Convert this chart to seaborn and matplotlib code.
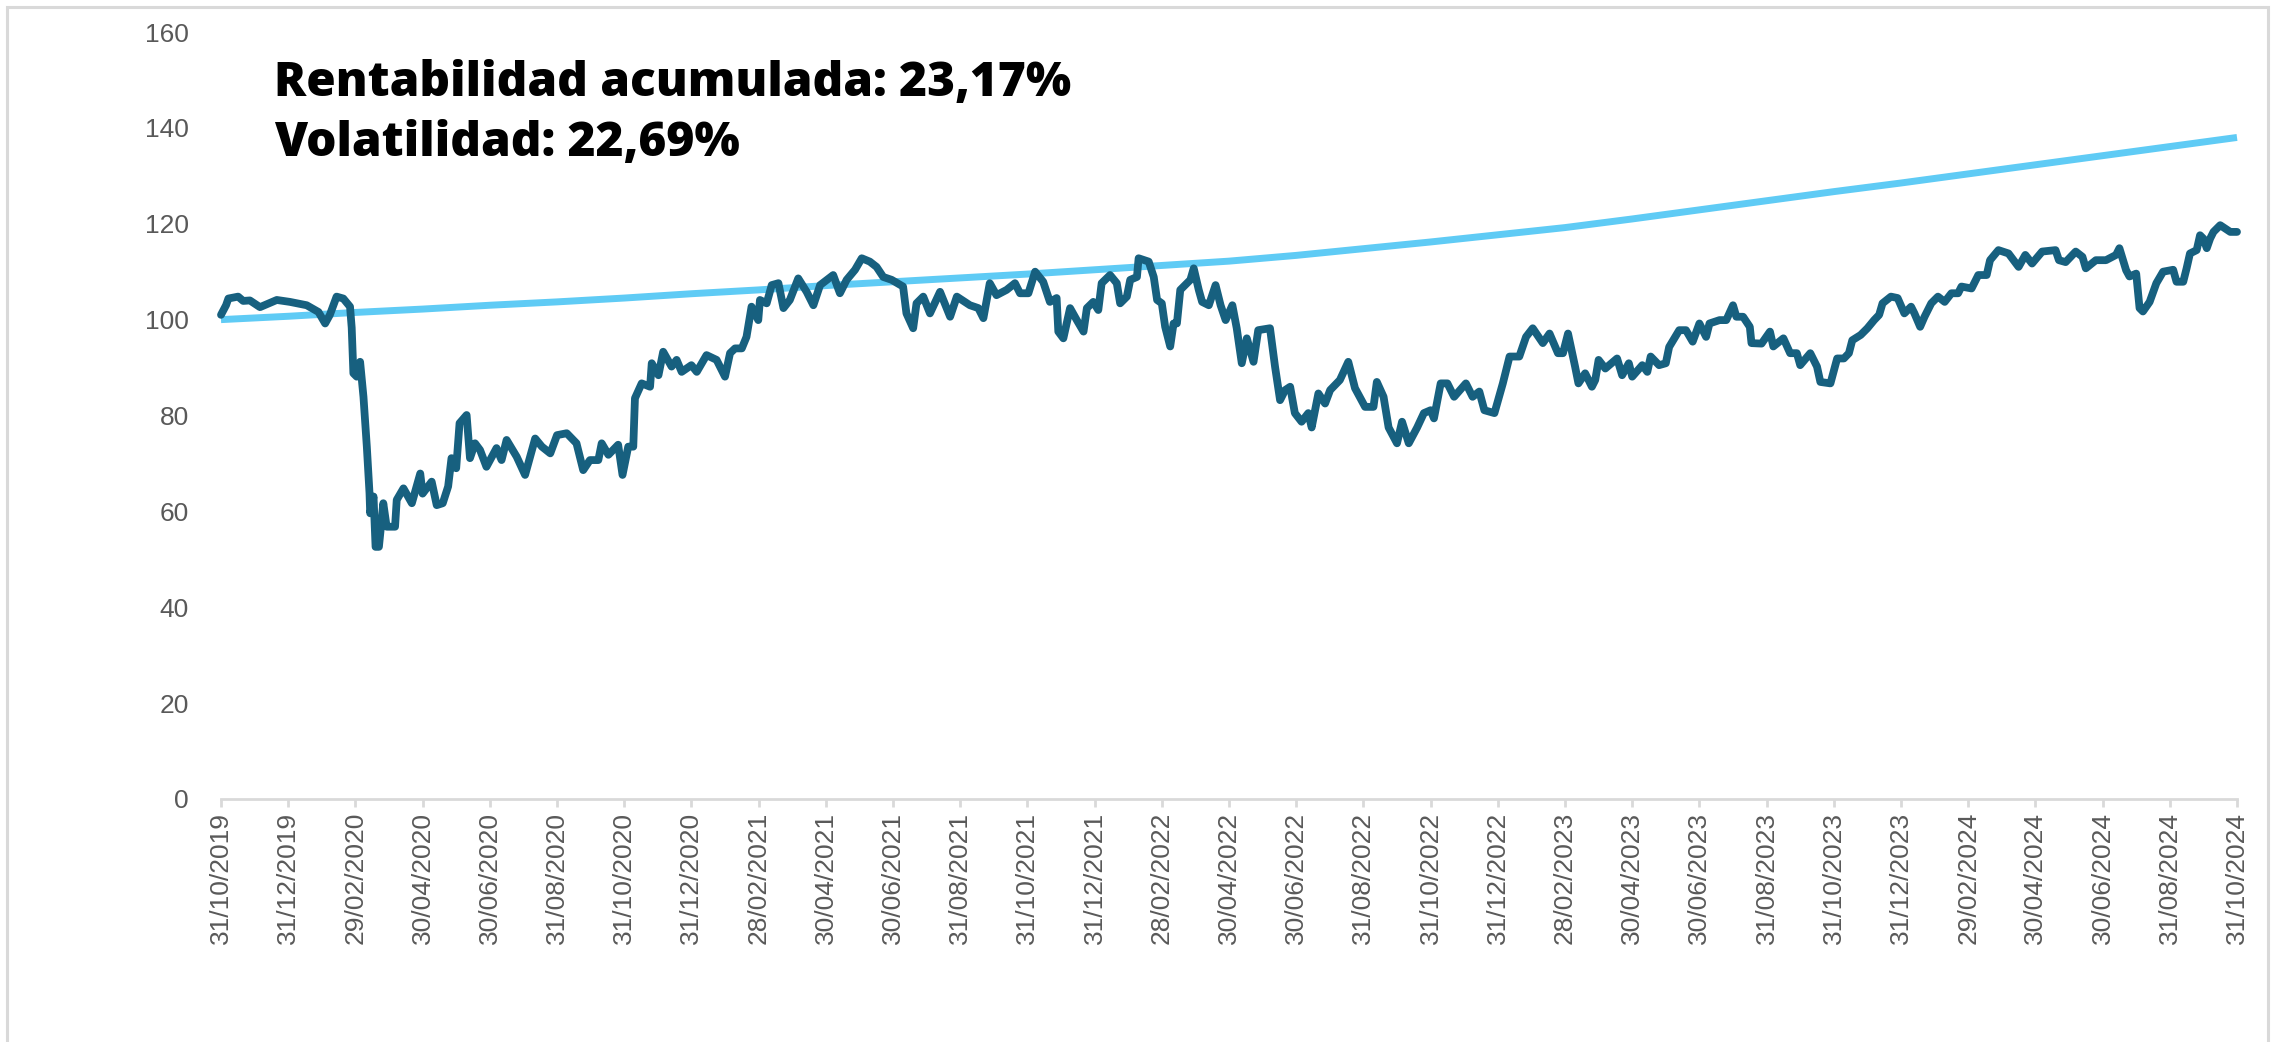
import pandas as pd
import numpy as np
import matplotlib
matplotlib.use("Agg")
import matplotlib.pyplot as plt
from matplotlib.patches import Rectangle
import seaborn as sns

# Data (x = months since 31/10/2019)
fund_months = [
    0, 0.15, 0.22, 0.51, 0.66, 0.86, 1.16, 1.66, 2.05, 2.55, 2.9, 3.1, 3.24, 3.44, 3.64, 3.84, 3.89, 3.94,
    4.04, 4.14, 4.24, 4.34, 4.42, 4.44, 4.54, 4.6, 4.7, 4.83, 4.93, 5.18, 5.23, 5.43, 5.68, 5.93, 6.0, 6.27,
    6.42, 6.6, 6.76, 6.86, 7.0, 7.1, 7.31, 7.41, 7.56, 7.71, 7.9, 8.2, 8.35, 8.5, 8.8, 9.05, 9.35, 9.55, 9.8,
    10.0, 10.29, 10.58, 10.78, 10.98, 11.23, 11.33, 11.53, 11.82, 11.95, 12.12, 12.27, 12.32, 12.52, 12.77,
    12.82, 13.02, 13.16, 13.41, 13.56, 13.71, 14.0, 14.16, 14.45, 14.75, 15.0, 15.15, 15.3, 15.5, 15.64,
    15.79, 15.89, 15.99, 16.04, 16.24, 16.39, 16.59, 16.74, 16.93, 17.18, 17.43, 17.63, 17.83, 18.22, 18.42,
    18.62, 18.87, 19.07, 19.31, 19.51, 19.71, 19.96,
    20.3, 20.4, 20.6, 20.7, 20.9, 21.1, 21.4, 21.7, 21.9, 22.29, 22.54, 22.69, 22.88, 23.08, 23.38, 23.63,
    23.78, 24.03, 24.23, 24.47, 24.67, 24.87, 24.92, 25.07, 25.27, 25.47, 25.67, 25.77, 25.96, 26.11, 26.21,
    26.46, 26.66, 26.76, 26.96, 27.06, 27.26, 27.31, 27.61, 27.76, 27.86, 28.0, 28.1, 28.25, 28.35, 28.45,
    28.55, 28.85, 28.95, 29.1, 29.2, 29.4, 29.6, 29.75, 29.9, 30.1,
    30.23, 30.38, 30.53, 30.73, 30.87, 31.22, 31.37, 31.52, 31.67, 31.82, 31.96, 32.16, 32.36, 32.46, 32.66,
    32.86, 33.01, 33.3, 33.55, 33.75, 34.05, 34.3, 34.4, 34.6, 34.75, 35.0, 35.15, 35.35, 35.6, 35.8, 36.0,
    36.1, 36.3, 36.5, 36.7, 37.05, 37.25, 37.45, 37.6, 37.9, 38.15, 38.35, 38.64, 38.84, 39.04, 39.34, 39.54,
    39.79, 39.94, 40.09,
    40.3, 40.4, 40.6, 40.8, 40.9, 41.0, 41.2, 41.55, 41.7, 41.9, 42.0, 42.3, 42.45, 42.55, 42.8, 43.0, 43.1,
    43.4, 43.6, 43.8, 44.0, 44.2, 44.3, 44.6, 44.8, 45.0, 45.1, 45.3, 45.5, 45.55, 45.85, 46.1, 46.2, 46.5,
    46.7, 46.9, 47.0, 47.3, 47.5, 47.6, 47.9, 48.1, 48.3, 48.45, 48.55, 48.8, 49.0, 49.2, 49.35, 49.45, 49.7,
    49.9, 50.1, 50.3,
    50.4, 50.57, 50.7, 50.9, 51.1, 51.3, 51.5, 51.7, 51.8, 52.1, 52.3, 52.55, 52.65, 52.9, 53.2, 53.5, 53.7,
    53.9, 54.2, 54.6, 54.7, 54.9, 55.2, 55.4, 55.5, 55.8, 56.1, 56.4, 56.5, 56.7, 56.8, 57.0, 57.1, 57.2,
    57.4, 57.6, 57.8, 58.1, 58.2, 58.4, 58.5, 58.6, 58.8, 58.9, 59.0, 59.1, 59.2, 59.3, 59.5, 59.8, 60.0,
]
fund_values = [
    101.0, 103.0, 104.4, 104.8, 103.9, 104.0, 102.6, 104.1, 103.7, 103.0, 101.6, 99.2, 101.0, 104.8, 104.4,
    102.7, 98.3, 88.8, 88.1, 91.2, 83.9, 73.5, 63.8, 59.6, 63.1, 52.6, 52.6, 61.7, 56.8, 56.8, 62.4, 64.8,
    61.7, 67.9, 63.7, 66.2, 61.3, 61.7, 65.2, 71.1, 69.0, 78.4, 80.1, 71.1, 74.2, 72.8, 69.3, 73.2, 70.7,
    74.9, 71.4, 67.6, 75.2, 73.5, 72.1, 75.9,
    76.3, 74.2, 68.6, 70.7, 70.7, 74.2, 71.8, 73.9, 67.6, 73.5, 73.5, 83.6, 86.7, 86.0, 90.9, 88.4, 93.3,
    90.2, 91.6, 89.1, 90.5, 89.1, 92.6, 91.6, 88.1, 93.0, 94.0, 94.0, 96.4, 102.7, 101.3, 99.9, 104.1, 103.4,
    107.2, 107.6, 102.4, 104.1, 108.6, 105.8, 103.0, 107.2, 109.3, 105.5, 108.3, 110.4, 112.8, 112.1, 111.0,
    108.9, 108.3,
    106.9, 101.3, 98.2, 103.4, 104.8, 101.3, 105.8, 100.6, 104.8, 103.0, 102.4, 100.3, 107.6, 105.1, 106.2,
    107.6, 105.5, 105.5, 110.0, 107.9, 103.7, 104.5, 97.5, 96.1, 102.4, 99.9, 97.5, 102.4, 103.7, 102.0,
    107.6, 109.3, 107.6, 103.4, 104.8, 108.3, 108.9, 112.8, 112.1, 108.9, 104.1, 103.4, 98.5, 94.4, 99.2,
    99.2, 106.2, 108.3, 110.7, 106.2, 103.7, 103.0, 107.2, 103.0, 99.9, 103.0,
    98.2, 90.9, 96.1, 91.2, 97.8, 98.2, 90.2, 83.2, 85.3, 86.0, 80.5, 78.7, 80.5, 77.5, 84.6, 82.5, 85.3,
    87.4, 91.2, 85.7, 81.8, 81.8, 87.0, 83.9, 77.5, 74.2, 78.7, 74.2, 77.5, 80.5, 81.1, 79.4, 86.7, 86.7,
    83.9, 86.7, 83.9, 85.0, 81.1, 80.5, 86.7, 92.3, 92.3, 96.4, 98.2, 95.1, 97.1, 93.0, 93.0, 97.1,
    90.2, 86.7, 88.8, 86.0, 87.4, 91.6, 89.8, 91.9, 88.4, 90.9, 88.1, 90.5, 89.1, 92.3, 90.5, 90.9, 94.3,
    97.8, 97.8, 95.4, 99.2, 96.4, 99.2, 99.9, 99.9, 103.0, 100.6, 100.6, 98.5, 95.1, 95.0, 97.5, 94.4, 96.1,
    93.0, 93.0, 90.5, 93.0, 90.2, 87.0, 86.7, 91.9, 91.9, 93.0, 95.7, 96.8, 98.2, 99.9, 101.0, 103.4, 104.8,
    104.5, 101.3, 102.7,
    101.3, 98.5, 100.6, 103.4, 104.8, 103.7, 105.5, 105.5, 106.9, 106.5, 109.3, 109.3, 112.4, 114.5, 113.8,
    111.0, 113.5, 111.7, 114.2, 114.5, 112.4, 112.0, 114.2, 113.1, 110.7, 112.4, 112.4, 113.5, 114.9, 110.3,
    109.0, 109.6, 102.4, 101.7, 103.7, 107.6, 110.0, 110.4, 107.9, 107.9, 110.7, 113.8, 114.5, 117.6, 116.9,
    114.9, 116.9, 118.3, 119.7, 118.3, 118.3,
]

target_months = list(range(0, 61, 2))
target_values = [
    100.0, 100.7, 101.5, 102.2, 103.0, 103.7, 104.5, 105.4, 106.2, 107.1, 107.9, 108.7, 109.5, 110.4,
    111.3, 112.2, 113.4, 114.8, 116.2, 117.7, 119.2, 121.0, 122.9, 124.8, 126.7, 128.5, 130.4, 132.3,
    134.2, 136.1, 138.0,
]

tick_dates = pd.date_range("2019-10-31", "2024-10-31", freq="2ME")
tick_labels = tick_dates.strftime("%d/%m/%Y").tolist()

annotation_lines = ["Rentabilidad acumulada: 23,17%", "Volatilidad: 22,69%"]

DARK = "#17607F"
LIGHT = "#5FCBF5"
GRAY_TXT = "#595959"
GRAY_LINE = "#D9D9D9"

sns.set_theme(style="white")
plt.rcParams["font.family"] = ["Liberation Sans", "DejaVu Sans"]

fig = plt.figure(figsize=(22.82, 10.42), dpi=100)
ax = fig.add_axes([221 / 2282, 243 / 1042, (2237 - 221) / 2282, (799 - 32) / 1042])

fund = pd.DataFrame({"mes": fund_months, "valor": fund_values})
target = pd.DataFrame({"mes": target_months, "valor": target_values})

sns.lineplot(data=target, x="mes", y="valor", ax=ax, color=LIGHT)
sns.lineplot(data=fund, x="mes", y="valor", ax=ax, color=DARK)

# seaborn may override widths; set them on the artists directly
light_line, dark_line = ax.lines[0], ax.lines[1]
light_line.set_linewidth(5.0)
light_line.set_solid_capstyle("butt")
light_line.set_clip_on(False)
light_line.set_zorder(2)
dark_line.set_linewidth(5.6)
dark_line.set_solid_joinstyle("round")
dark_line.set_solid_capstyle("round")
dark_line.set_clip_on(False)
dark_line.set_zorder(3)

ax.set_xlim(0, 60)
ax.set_ylim(0, 160)
ax.set_yticks(np.arange(0, 161, 20))
ax.set_xticks(target_months)
ax.set_xticklabels(tick_labels, rotation=90)
ax.set_xlabel("")
ax.set_ylabel("")

for side in ["top", "right", "left"]:
    ax.spines[side].set_visible(False)
ax.spines["bottom"].set_color(GRAY_LINE)
ax.spines["bottom"].set_linewidth(2.0)

ax.tick_params(axis="x", colors=GRAY_TXT, labelsize=19, length=6, width=2.0,
               color=GRAY_LINE, pad=3, bottom=True, direction="out")
ax.tick_params(axis="y", colors=GRAY_TXT, labelsize=19, length=0, pad=23)
ax.grid(False)

for i, line in enumerate(annotation_lines):
    fig.text(274 / 2282, 1 - (84 + 60 * i) / 1042, line, fontsize=34.4, fontweight="heavy",
             family=["Open Sans", "DejaVu Sans"], color="black", va="center", ha="left")

# light frame around the chart area (bottom edge falls outside the picture)
fig.patches.append(Rectangle((7 / 2282, -0.02), (2268 - 7) / 2282, 1.02 - 7 / 1042,
                             transform=fig.transFigure, fill=False,
                             edgecolor=GRAY_LINE, linewidth=2.2, clip_on=False))

fig.savefig("out.png", dpi=100)
